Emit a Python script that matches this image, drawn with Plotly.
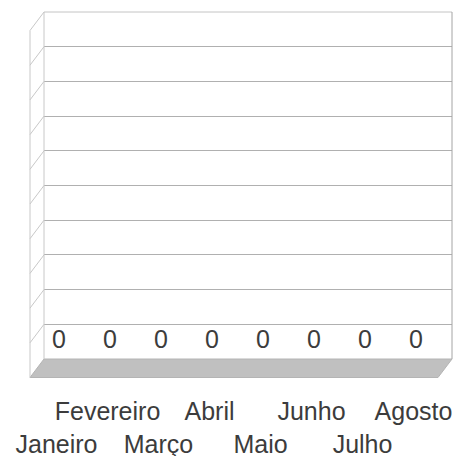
import plotly.graph_objects as go

# ---- data ----
months = ["Janeiro", "Fevereiro", "Março", "Abril", "Maio", "Junho", "Julho", "Agosto"]
values = [0, 0, 0, 0, 0, 0, 0, 0]
y_ticks = list(range(0, 11))  # back-wall gridlines (no labels shown)

# ---- geometry / style ----
# the page body has an 8px margin, so the figure is a bit smaller than the window
W, H = 457, 448
ML, MR, MT, MB = 36, 13, 4, 97
PW, PH = W - ML - MR, H - MT - MB
DX, DY = -14, 18.5  # 3D depth offset in px (left, down)
dxp, dyp = DX / PW, -DY / PH
FONT = "Liberation Sans, Arial, sans-serif"
TXT = "#3c3c3c"
GRID = "#b0b0b0"
WALL = "#c8c8c8"
FLOOR = "#c0c0c0"

# staggered labels: even index on 2nd row
ticktext = [(" <br>" + m) if i % 2 == 0 else m for i, m in enumerate(months)]

fig = go.Figure()
fig.add_trace(go.Bar(x=months, y=values, marker=dict(color="#8080ff", line=dict(width=0)),
                     hoverinfo="x+y", showlegend=False))

shapes = []
# floor
shapes.append(dict(type="path", xref="paper", yref="paper",
                   path=f"M 0 0 L 1 0 L {1+dxp} {dyp} L {dxp} {dyp} Z",
                   fillcolor=FLOOR, line=dict(color="#b4b4b4", width=1), layer="above"))
# left wall verticals
shapes.append(dict(type="line", xref="paper", yref="paper", x0=dxp, y0=dyp, x1=dxp, y1=1 + dyp,
                   line=dict(color=WALL, width=1)))
shapes.append(dict(type="line", xref="paper", yref="paper", x0=0, y0=0, x1=0, y1=1,
                   line=dict(color=WALL, width=1)))
# left wall slanted grid lines
for v in y_ticks[1:]:
    f = v / y_ticks[-1]
    shapes.append(dict(type="line", xref="paper", yref="paper", x0=0, y0=f, x1=dxp, y1=f + dyp,
                       line=dict(color=WALL, width=1)))
# back wall top and right edges
shapes.append(dict(type="line", xref="paper", yref="paper", x0=0, y0=1, x1=1, y1=1,
                   line=dict(color="#c4c4c4", width=1)))
shapes.append(dict(type="line", xref="paper", yref="paper", x0=1, y0=0, x1=1, y1=1,
                   line=dict(color="#a4a4a4", width=1)))

annotations = []
for m, v in zip(months, values):
    annotations.append(dict(x=m, y=v, xref="x", yref="y", text=str(v), showarrow=False,
                            xshift=-10.5, yshift=20,
                            font=dict(family=FONT, size=25, color=TXT)))

fig.update_layout(
    width=W, height=H, autosize=False,
    margin=dict(l=ML, r=MR, t=MT, b=MB, pad=0, autoexpand=False),
    paper_bgcolor="white", plot_bgcolor="white",
    showlegend=False,
    shapes=shapes, annotations=annotations,
    xaxis=dict(type="category", range=[-0.5, len(months) - 0.5],
               tickmode="array", tickvals=months, ticktext=ticktext,
               showgrid=False, zeroline=False, showline=False, ticks="",
               tickangle=0, automargin=False,
               tickfont=dict(family=FONT, size=25, color=TXT),
               ticklabelshift=-13, ticklabelstandoff=35, fixedrange=True),
    yaxis=dict(range=[0, 10], tickvals=y_ticks, showgrid=True, gridcolor=GRID, gridwidth=1,
               zeroline=False, showline=False, showticklabels=False, ticks="", fixedrange=True,
               automargin=False),
    font=dict(family=FONT, color=TXT),
)

fig.write_html("out.html")
